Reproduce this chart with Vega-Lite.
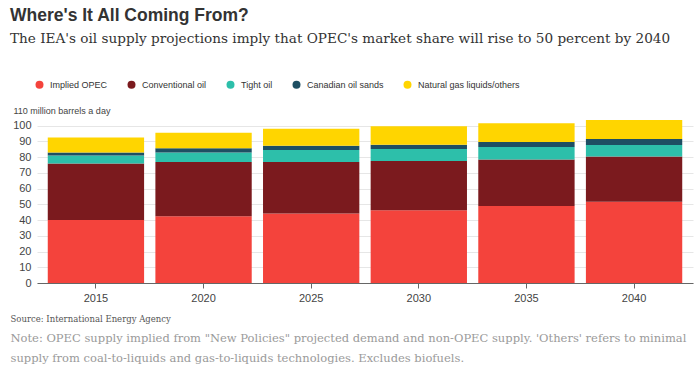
{
  "$schema": "https://vega.github.io/schema/vega-lite/v6.json",
  "width": 656,
  "height": 173,
  "autosize": {"type": "none"},
  "padding": {"left": 37, "top": 110, "right": 7, "bottom": 86},
  "background": "white",
  "title": {
    "text": "Where's It All Coming From?",
    "subtitle": "The IEA's oil supply projections imply that OPEC's market share will rise to 50 percent by 2040",
    "anchor": "start",
    "frame": "group",
    "dx": -27,
    "offset": 34,
    "font": "Liberation Sans",
    "fontSize": 17.5,
    "fontWeight": "bold",
    "color": "#333333",
    "subtitleFont": "DejaVu Serif",
    "subtitleFontSize": 13.6,
    "subtitleColor": "#333333",
    "subtitlePadding": 8
  },
  "data": {
    "values": [
      {"year": "2015", "source": "Implied OPEC", "value": 40.0},
      {"year": "2015", "source": "Conventional oil", "value": 36.0},
      {"year": "2015", "source": "Tight oil", "value": 5.0},
      {"year": "2015", "source": "Canadian oil sands", "value": 2.0},
      {"year": "2015", "source": "Natural gas liquids/others", "value": 9.5},
      {"year": "2020", "source": "Implied OPEC", "value": 42.5},
      {"year": "2020", "source": "Conventional oil", "value": 34.5},
      {"year": "2020", "source": "Tight oil", "value": 6.0},
      {"year": "2020", "source": "Canadian oil sands", "value": 2.6},
      {"year": "2020", "source": "Natural gas liquids/others", "value": 10.0},
      {"year": "2025", "source": "Implied OPEC", "value": 44.2},
      {"year": "2025", "source": "Conventional oil", "value": 32.8},
      {"year": "2025", "source": "Tight oil", "value": 7.5},
      {"year": "2025", "source": "Canadian oil sands", "value": 2.8},
      {"year": "2025", "source": "Natural gas liquids/others", "value": 10.7},
      {"year": "2030", "source": "Implied OPEC", "value": 46.3},
      {"year": "2030", "source": "Conventional oil", "value": 31.2},
      {"year": "2030", "source": "Tight oil", "value": 7.7},
      {"year": "2030", "source": "Canadian oil sands", "value": 2.7},
      {"year": "2030", "source": "Natural gas liquids/others", "value": 11.7},
      {"year": "2035", "source": "Implied OPEC", "value": 48.9},
      {"year": "2035", "source": "Conventional oil", "value": 29.7},
      {"year": "2035", "source": "Tight oil", "value": 7.8},
      {"year": "2035", "source": "Canadian oil sands", "value": 3.2},
      {"year": "2035", "source": "Natural gas liquids/others", "value": 11.9},
      {"year": "2040", "source": "Implied OPEC", "value": 51.6},
      {"year": "2040", "source": "Conventional oil", "value": 28.9},
      {"year": "2040", "source": "Tight oil", "value": 7.2},
      {"year": "2040", "source": "Canadian oil sands", "value": 3.8},
      {"year": "2040", "source": "Natural gas liquids/others", "value": 12.1}
    ]
  },
  "transform": [
    {
      "calculate": "indexof(['Implied OPEC', 'Conventional oil', 'Tight oil', 'Canadian oil sands', 'Natural gas liquids/others'], datum.source)",
      "as": "stackOrder"
    }
  ],
  "mark": {"type": "bar"},
  "encoding": {
    "x": {
      "field": "year",
      "type": "ordinal",
      "scale": {"paddingInner": 0.105, "paddingOuter": 0.1},
      "axis": {
        "labelAngle": 0,
        "labelFont": "Liberation Sans",
        "labelFontSize": 11,
        "labelColor": "#444444",
        "labelPadding": 4,
        "tickColor": "#666666",
        "tickSize": 5,
        "domainColor": "#666666",
        "title": [
          "Note: OPEC supply implied from \"New Policies\" projected demand and non-OPEC supply. 'Others' refers to minimal",
          "supply from coal-to-liquids and gas-to-liquids technologies. Excludes biofuels."
        ],
        "titleFont": "DejaVu Serif",
        "titleFontSize": 11.5,
        "titleFontWeight": "normal",
        "titleColor": "#9a9a9a",
        "titleAlign": "left",
        "titleAnchor": "start",
        "titleBaseline": "top",
        "titleX": -27,
        "titleY": 49,
        "titleLineHeight": 20
      }
    },
    "y": {
      "field": "value",
      "type": "quantitative",
      "stack": "zero",
      "scale": {"domain": [0, 110], "nice": false},
      "axis": {
        "values": [0, 10, 20, 30, 40, 50, 60, 70, 80, 90, 100, 110],
        "labelExpr": "datum.value == 110 ? '110 million barrels a day' : datum.label",
        "labelFont": "Liberation Sans",
        "labelFontSize": {"condition": {"test": "datum.value == 110", "value": 9}, "value": 11},
        "labelAlign": {"condition": {"test": "datum.value == 110", "value": "left"}, "value": "right"},
        "labelPadding": {"condition": {"test": "datum.value == 110", "value": 24}, "value": 6},
        "labelColor": "#444444",
        "domain": false,
        "ticks": false,
        "gridColor": "#e6e6e6",
        "gridOpacity": {"condition": {"test": "datum.value == 110", "value": 0}, "value": 1},
        "title": "Source: International Energy Agency",
        "titleFont": "DejaVu Serif",
        "titleFontSize": 8.5,
        "titleFontWeight": "normal",
        "titleColor": "#555555",
        "titleAngle": 0,
        "titleAlign": "left",
        "titleBaseline": "middle",
        "titleX": -27,
        "titleY": 208
      }
    },
    "color": {
      "field": "source",
      "type": "nominal",
      "sort": ["Implied OPEC", "Conventional oil", "Tight oil", "Canadian oil sands", "Natural gas liquids/others"],
      "scale": {
        "domain": ["Implied OPEC", "Conventional oil", "Tight oil", "Canadian oil sands", "Natural gas liquids/others"],
        "range": ["#f4433c", "#7b1a1e", "#2dbfaa", "#1e4f63", "#ffd500"]
      },
      "legend": {
        "title": null,
        "orient": "none",
        "direction": "horizontal",
        "legendX": -2,
        "legendY": -30,
        "symbolType": "circle",
        "symbolSize": 64,
        "symbolStrokeWidth": 0,
        "labelFont": "Liberation Sans",
        "labelFontSize": 9,
        "labelColor": "#333333",
        "labelOffset": 6,
        "columnPadding": 19,
        "padding": 0
      }
    },
    "order": {"field": "stackOrder", "type": "quantitative", "sort": "ascending"}
  },
  "config": {
    "view": {"stroke": null},
    "axis": {"labelBound": false}
  }
}
